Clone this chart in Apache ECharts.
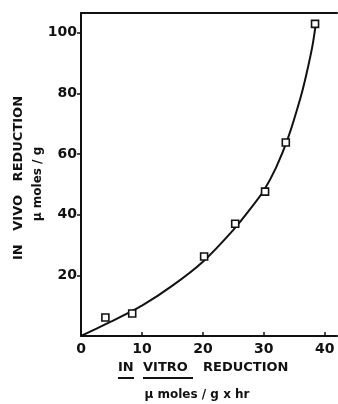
<!DOCTYPE html>
<html><head><meta charset="utf-8">
<script src="https://cdn.jsdelivr.net/npm/echarts@6/dist/echarts.min.js"></script>
<style>html,body{margin:0;padding:0;background:#fff}#c{width:338px;height:404px}</style>
</head><body><div id="c"></div>
<script>
// measured points (in vitro, in vivo)
const pointsX = [4.0, 8.4, 20.2, 25.3, 30.2, 33.6, 38.4];
const pointsY = [6.1, 7.4, 26.2, 37.0, 47.6, 63.8, 102.9];
// fitted curve
const curveX = [0, 5, 10, 15, 20, 25, 28, 30, 32, 34, 36, 37, 38, 38.6];
const curveY = [0, 4.8, 10.0, 16.6, 24.5, 35.0, 42.5, 48.0, 55.5, 65.5, 78.5, 86.5, 96.0, 104.0];
const xTicks = [0, 10, 20, 30, 40];
const yTicks = [20, 40, 60, 80, 100];

const chart = echarts.init(document.getElementById('c'));
const F = 'DejaVu Sans';
const txt = (t, x, y, size, align) => ({
  type: 'text', x: x, y: y,
  style: { text: t, fontFamily: F, fontWeight: 'bold', fontSize: size, fill: '#111', align: align || 'left', verticalAlign: 'middle' }
});
chart.setOption({
  animation: false,
  grid: { left: 81, right: 1, top: 13, bottom: 68 },
  xAxis: [{
    type: 'value', min: 0, max: 42, interval: 10,
    axisLine: { lineStyle: { color: '#111', width: 2 } },
    axisTick: { inside: true, length: 4, lineStyle: { color: '#111', width: 1.5 }, customValues: xTicks },
    axisLabel: { customValues: xTicks, color: '#111', fontFamily: F, fontWeight: 'bold', fontSize: 14, margin: 6 },
    splitLine: { show: false }
  }, {
    type: 'value', position: 'top', min: 0, max: 42,
    axisLine: { show: true, lineStyle: { color: '#111', width: 2 } },
    axisTick: { show: false }, axisLabel: { show: false }, splitLine: { show: false }
  }],
  yAxis: {
    type: 'value', min: 0, max: 106.5, interval: 20,
    axisLine: { lineStyle: { color: '#111', width: 2 } },
    axisTick: { length: 4, lineStyle: { color: '#111', width: 1.5 }, customValues: yTicks },
    axisLabel: { customValues: yTicks, color: '#111', fontFamily: F, fontWeight: 'bold', fontSize: 14, margin: 4 },
    splitLine: { show: false }
  },
  series: [{
    type: 'line', smooth: 0.25, showSymbol: false, symbol: 'none',
    data: curveX.map((x, i) => [x, curveY[i]]),
    lineStyle: { color: '#111', width: 2 }, z: 2
  }, {
    type: 'scatter', symbol: 'rect', symbolSize: 7,
    data: pointsX.map((x, i) => [x, pointsY[i]]),
    itemStyle: { color: '#fff', borderColor: '#111', borderWidth: 1.6, opacity: 1 }, z: 3
  }],
  graphic: [
    txt('IN', 118, 368, 13),
    txt('VITRO', 143, 368, 13),
    txt('REDUCTION', 203, 368, 13),
    { type: 'line', shape: { x1: 118, y1: 378, x2: 134, y2: 378 }, style: { stroke: '#111', lineWidth: 2 } },
    { type: 'line', shape: { x1: 143, y1: 378, x2: 193, y2: 378 }, style: { stroke: '#111', lineWidth: 2 } },
    txt('\u03bc moles / g x hr', 197, 395, 12, 'center'),
    { type: 'text', x: 18.5, y: 178, rotation: Math.PI / 2,
      style: { text: 'IN   VIVO   REDUCTION', fontFamily: F, fontWeight: 'bold', fontSize: 13, fill: '#111', align: 'center', verticalAlign: 'middle' } },
    { type: 'text', x: 38, y: 184, rotation: Math.PI / 2,
      style: { text: '\u03bc moles / g', fontFamily: F, fontWeight: 'bold', fontSize: 12, fill: '#111', align: 'center', verticalAlign: 'middle' } }
  ]
});
</script></body></html>
